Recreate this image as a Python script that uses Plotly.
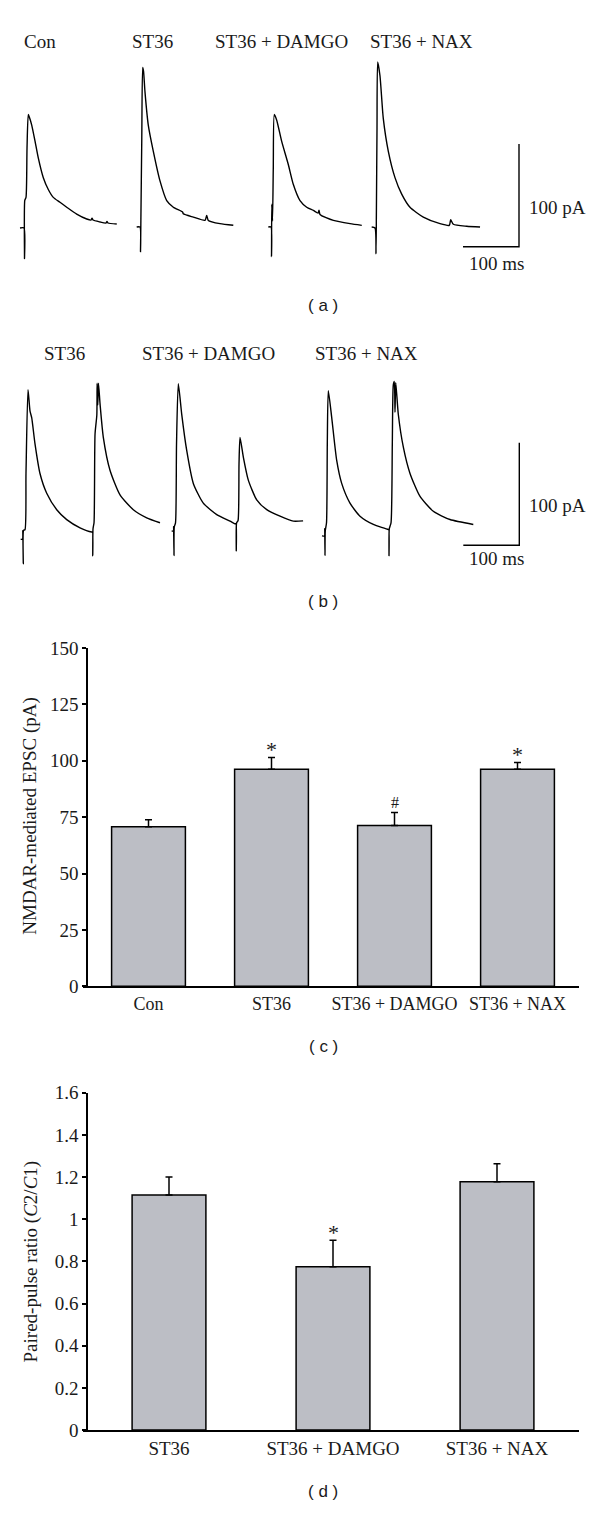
import plotly.graph_objects as go

# ---------------- DATA ----------------
# Panel (a): single EPSC traces, time (ms after stimulus) and current (pA above baseline)
a_labels = ["Con", "ST36", "ST36 + DAMGO", "ST36 + NAX"]
a_con_t = [-8.0, -0.9, 0, 0.5, 2.7, 4.5, 6.8, 8.9, 12.9, 18.8, 24.6, 33.6, 42.5, 51.4, 63.4, 75.4, 93.2, 111.1, 118.8, 120.6, 122.3, 134.8, 145.5, 147.3, 149.1, 164.7]
a_con_i = [0, 0, -29.8, 26.9, 29.8, 77.9, 110.6, 107.7, 100.3, 84.6, 68.3, 49.0, 37.5, 29.8, 25.0, 20.2, 13.5, 8.7, 7.7, 9.6, 7.7, 5.8, 4.8, 6.3, 4.8, 3.8]
a_st36_t = [-6.8, -0.9, 0, 0.7, 2.3, 3.9, 5.4, 8.0, 13.9, 22.9, 34.8, 46.8, 58.6, 75.4, 76.4, 94.3, 115.2, 118.2, 121.1, 142.0, 165.7]
a_st36_i = [0, 0, -24.0, 7.7, 86.5, 155.5, 151.9, 131.7, 99.3, 73.7, 44.9, 25.7, 19.2, 14.4, 12.8, 9.6, 6.4, 11.2, 6.4, 3.2, 1.6]
a_damgo_t = [-5.7, -0.9, 0, 0.5, 1.8, 3.2, 5.0, 9.3, 18.2, 30.0, 38.9, 50.9, 62.9, 74.7, 83.1, 84.8, 86.6, 110.5, 140.3, 161.2]
a_damgo_i = [0, 0, -28.8, 22.1, 5.8, 57.7, 109.6, 104.1, 83.4, 60.9, 41.6, 25.7, 19.2, 16.1, 13.5, 16.3, 12.2, 6.4, 3.2, 1.6]
a_nax_t = [-7.7, -1.8, 0, 0.7, 1.8, 3.0, 7.1, 13.0, 22.0, 33.9, 45.9, 60.7, 84.5, 114.3, 130.9, 133.4, 138.1, 162.0, 185.8]
a_nax_i = [0, -1.0, -26.2, 14.4, 96.2, 160.9, 147.4, 105.8, 73.7, 48.1, 32.0, 19.2, 9.6, 3.2, 1.6, 7.0, 2.6, 0.7, 0]

# Panel (b): paired-pulse traces
b_labels = ["ST36", "ST36 + DAMGO", "ST36 + NAX"]
b_st36_t = [-4.6, -1.4, -0.9, 0, 0.5, 3.0, 4.8, 8.4, 12.0, 15.0, 20.9, 29.8, 41.8, 59.7, 77.5, 101.3, 122.2, 123.6, 124.0, 124.5, 126.3, 128.1, 131.3, 131.8, 133.0, 134.2, 137.2, 142.9, 154.8, 172.7, 196.5, 220.4, 244.1]
b_st36_i = [0, 0, 8.4, -24.0, 8.7, 9.3, 64.1, 145.9, 125.0, 118.6, 93.0, 64.1, 44.9, 28.8, 19.2, 11.2, 7.1, 7.1, -16.0, 10.3, 16.1, 102.6, 121.2, 152.1, 131.0, 152.1, 131.0, 99.4, 67.3, 43.3, 28.8, 20.9, 16.1]
b_damgo_t = [-4.1, -0.9, -0.7, 0, 0.5, 2.7, 4.5, 7.7, 13.8, 22.7, 34.5, 52.3, 76.3, 100.0, 108.9, 110.7, 111.2, 111.8, 114.3, 116.1, 117.9, 123.8, 132.7, 147.7, 165.6, 189.3, 213.1, 230.5]
b_damgo_i = [0, 0, 4.1, -24.0, 4.1, 8.0, 84.6, 143.6, 113.7, 78.5, 46.4, 27.2, 16.0, 9.6, 7.0, 7.0, -19.2, 8.0, 9.9, 65.7, 91.3, 72.1, 49.6, 30.4, 20.8, 14.4, 9.6, 9.9]
b_nax_t = [-5.4, -0.9, -0.5, 0, 0.5, 2.7, 4.1, 5.9, 12.0, 20.9, 29.8, 44.6, 62.5, 86.3, 113.1, 114.0, 114.3, 114.8, 117.9, 120.2, 122.0, 123.8, 125.0, 126.3, 130.9, 139.9, 151.8, 169.7, 193.4, 223.2, 264.8]
b_nax_i = [0, 0, 7.0, -19.2, 5.1, 12.8, 89.7, 141.6, 115.4, 73.6, 51.2, 32.0, 19.2, 11.2, 6.3, 6.3, -19.2, 7.0, 12.8, 89.7, 147.4, 150.6, 120.6, 149.5, 118.6, 86.5, 60.9, 38.5, 24.0, 16.0, 11.2]

scale_pa = 100
scale_ms = 100

# Panel (c): NMDAR-mediated EPSC
c_categories = ["Con", "ST36", "ST36 + DAMGO", "ST36 + NAX"]
c_values = [70.8, 96.2, 71.3, 96.2]
c_errors = [3.1, 5.3, 5.8, 3.1]
c_marks = ["", "*", "#", "*"]
c_ticks = [0, 25, 50, 75, 100, 125, 150]

# Panel (d): paired-pulse ratio
d_categories = ["ST36", "ST36 + DAMGO", "ST36 + NAX"]
d_values = [1.115, 0.775, 1.178]
d_errors = [0.086, 0.125, 0.085]
d_marks = ["", "*", ""]
d_ticks = [0, 0.2, 0.4, 0.6, 0.8, 1, 1.2, 1.4, 1.6]
d_ticktext = ["0", "0.2", "0.4", "0.6", "0.8", "1", "1.2", "1.4", "1.6"]

# ---------------- LAYOUT CONSTANTS ----------------
W, H = 600, 1518
MS_PER_PX = 100 / 56
PA_PER_PX = 100 / 104
SERIF = "Liberation Serif"
SANS = "Liberation Sans"
FS = 19
TXT = "#1a1a1a"
BAR_COLOR = "#bcbec5"

a_onsets = [24.5 * MS_PER_PX, 140.5 * MS_PER_PX, 271.5 * MS_PER_PX, 376 * MS_PER_PX]
a_bases = [79 * PA_PER_PX, 80 * PA_PER_PX, 80 * PA_PER_PX, 80 * PA_PER_PX]
b_onsets = [23.3 * MS_PER_PX, 174 * MS_PER_PX, 325 * MS_PER_PX]
b_bases = [83.3 * PA_PER_PX, 91.7 * PA_PER_PX, 86.7 * PA_PER_PX]

X_LINE0, Y_AXIS_X, X_END = 83, 87, 579  # x-axis line start, y-axis position, x-axis end (px)

def py(p):  # pixel row -> paper fraction
    return 1 - p / H

fig = go.Figure()
line = dict(color="black", width=1.4, shape="spline", smoothing=0.6)

a_traces = [(a_con_t, a_con_i), (a_st36_t, a_st36_i), (a_damgo_t, a_damgo_i), (a_nax_t, a_nax_i)]
for (t, i), t0, b0 in zip(a_traces, a_onsets, a_bases):
    fig.add_trace(go.Scatter(x=[t0 + v for v in t], y=[b0 + v for v in i], mode="lines",
                             line=line, xaxis="x", yaxis="y", showlegend=False, hoverinfo="skip"))
b_traces = [(b_st36_t, b_st36_i), (b_damgo_t, b_damgo_i), (b_nax_t, b_nax_i)]
for (t, i), t0, b0 in zip(b_traces, b_onsets, b_bases):
    fig.add_trace(go.Scatter(x=[t0 + v for v in t], y=[b0 + v for v in i], mode="lines",
                             line=line, xaxis="x2", yaxis="y2", showlegend=False, hoverinfo="skip"))

# scale bars
for xa, ya, x0, y0 in [("x", "y", 519 * MS_PER_PX, 60 * PA_PER_PX), ("x2", "y2", 519.3 * MS_PER_PX, 77.3 * PA_PER_PX)]:
    fig.add_trace(go.Scatter(x=[x0 - scale_ms, x0, x0], y=[y0, y0, y0 + scale_pa], mode="lines",
                             line=dict(color="black", width=1.4), xaxis=xa, yaxis=ya,
                             showlegend=False, hoverinfo="skip"))

# bars
fig.add_trace(go.Bar(x=list(range(len(c_values))), y=c_values, width=0.6,
                     marker=dict(color=BAR_COLOR, line=dict(color="black", width=1.5)),
                     error_y=dict(type="data", symmetric=False, array=c_errors,
                                  arrayminus=[0] * len(c_errors), color="black", thickness=1.5, width=3.5),
                     xaxis="x3", yaxis="y3", showlegend=False, hoverinfo="skip"))
fig.add_trace(go.Bar(x=list(range(len(d_values))), y=d_values, width=0.45,
                     marker=dict(color=BAR_COLOR, line=dict(color="black", width=1.5)),
                     error_y=dict(type="data", symmetric=False, array=d_errors,
                                  arrayminus=[0] * len(d_errors), color="black", thickness=1.5, width=3.5),
                     xaxis="x4", yaxis="y4", showlegend=False, hoverinfo="skip"))

ann = []
def text(x, y, s, size=FS, font=SERIF, xanchor="left", xref="paper", yref="paper", **kw):
    ann.append(dict(x=x, y=y, text=s, xref=xref, yref=yref, showarrow=False, xanchor=xanchor,
                    yanchor=kw.pop("yanchor", "middle"), font=dict(family=font, size=size, color=TXT), **kw))

for lab, xl in zip(a_labels, [22, 130, 213, 368]):
    text(xl / W, py(32), lab)
for lab, xl in zip(b_labels, [41.5, 140, 313]):
    text(xl / W, py(348), lab)
text(527 / W, py(200), "100 pA")
text(467 / W, py(257), "100 ms")
text(527 / W, py(502), "100 pA")
text(467 / W, py(556), "100 ms")

for lab, yc in zip(["( a )", "( b )", "( c )", "( d )"], [300, 600, 1051, 1502]):
    text(323 / W, py(yc), lab, size=17, font=SANS, xanchor="center")

for i, m in enumerate(c_marks):
    if m:
        text(i, c_values[i] + c_errors[i], m, size=22 if m == "*" else 16, xanchor="center",
             xref="x3", yref="y3", yanchor="bottom", yshift=-7 if m == "*" else -1)
for i, m in enumerate(d_marks):
    if m:
        text(i, d_values[i] + d_errors[i], m, size=22, xanchor="center", xref="x4", yref="y4",
             yanchor="bottom", yshift=-7)

text(30 / W, py(818), "NMDAR-mediated EPSC (pA)", xanchor="center", textangle=-90)
text(31 / W, py(1269), "Paired-pulse ratio (<i>C</i>2/<i>C</i>1)", xanchor="center", textangle=-90)

hidden = dict(visible=False, showgrid=False, zeroline=False)
bar_x = dict(showline=True, linecolor="black", linewidth=1.5, ticks="", showgrid=False, zeroline=False)
bar_y = dict(showline=True, linecolor="black", linewidth=1.5, ticks="outside", ticklen=4, tickwidth=1.5,
             tickcolor="black", showgrid=False, zeroline=False, anchor="free", position=Y_AXIS_X / W,
             tickfont=dict(family=SERIF, size=FS, color=TXT))

def xrange(n):
    unit = (X_END - Y_AXIS_X) / n
    return [-0.5 - (Y_AXIS_X - X_LINE0) / unit, n - 0.5]

fig.update_layout(
    width=W, height=H, margin=dict(l=0, r=0, t=0, b=0),
    paper_bgcolor="white", plot_bgcolor="white",
    xaxis=dict(domain=[0, 1], range=[0, W * MS_PER_PX], anchor="y", **hidden),
    yaxis=dict(domain=[py(300), 1], range=[0, 300 * PA_PER_PX], anchor="x", **hidden),
    xaxis2=dict(domain=[0, 1], range=[0, W * MS_PER_PX], anchor="y2", **hidden),
    yaxis2=dict(domain=[py(620), py(300)], range=[0, 320 * PA_PER_PX], anchor="x2", **hidden),
    xaxis3=dict(domain=[X_LINE0 / W, X_END / W], range=xrange(len(c_categories)), anchor="y3",
                tickvals=list(range(len(c_categories))), ticktext=c_categories,
                tickfont=dict(family=SERIF, size=18, color=TXT), **bar_x),
    yaxis3=dict(domain=[py(990), py(647)], range=[0, 150], tickvals=c_ticks, **bar_y),
    xaxis4=dict(domain=[X_LINE0 / W, X_END / W], range=xrange(len(d_categories)), anchor="y4",
                tickvals=list(range(len(d_categories))), ticktext=d_categories,
                tickfont=dict(family=SERIF, size=FS, color=TXT), **bar_x),
    yaxis4=dict(domain=[py(1440), py(1098)], range=[0, 1.6], tickvals=d_ticks,
                ticktext=d_ticktext, **bar_y),
    annotations=ann,
)

fig.write_html("out.html", config={"displayModeBar": False},
               post_script="document.body.style.margin='0';document.body.style.overflow='hidden';")
